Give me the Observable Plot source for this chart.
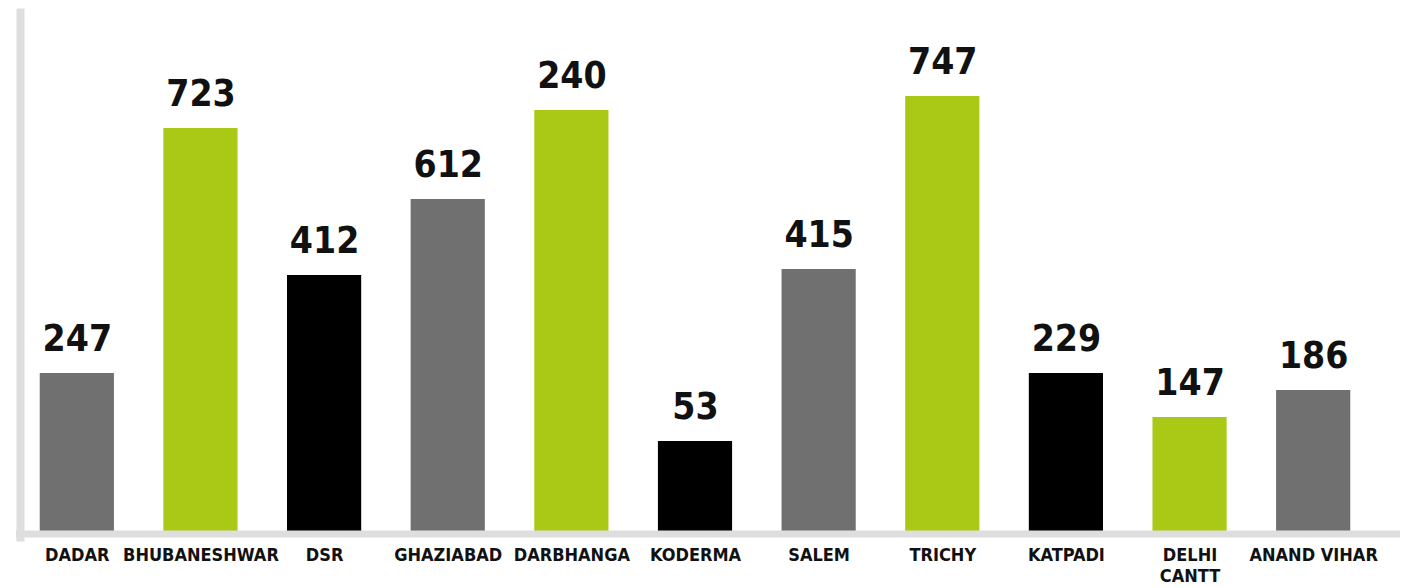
<!DOCTYPE html>
<html><head><meta charset="utf-8">
<script src="https://cdn.jsdelivr.net/npm/d3@7"></script>
<script src="https://cdn.jsdelivr.net/npm/@observablehq/plot@0.6"></script>
<style>html,body{margin:0;padding:0;background:#fff;}</style>
</head><body><div id="chart"></div>
<script>
// Categories (stations), in display order
const stations = ["DADAR", "BHUBANESHWAR", "DSR", "GHAZIABAD", "DARBHANGA", "KODERMA", "SALEM", "TRICHY", "KATPADI", "DELHI CANTT", "ANAND VIHAR"];
// Tick labels as printed under each bar
const tickLabels = ["DADAR", "BHUBANESHWAR", "DSR", "GHAZIABAD", "DARBHANGA", "KODERMA", "SALEM", "TRICHY", "KATPADI", "DELHI\nCANTT", "ANAND VIHAR"];
// Bar heights as drawn in the picture (arbitrary units)
const barHeights = [158, 403, 256, 332, 421, 90, 262, 435, 158, 114, 141];
// Numbers printed above each bar
const valueLabels = ["247", "723", "412", "612", "240", "53", "415", "747", "229", "147", "186"];
// Colour group of each bar
const groups = ["G1", "G2", "G3", "G1", "G2", "G3", "G1", "G2", "G3", "G2", "G1"];

const data = stations.map((s, i) => ({station: s, height: barHeights[i], label: valueLabels[i], group: groups[i]}));

const chart = Plot.plot({
  width: 1404,
  height: 588,
  marginTop: 12,
  marginBottom: 57,
  marginLeft: 20,
  marginRight: 4,
  style: {background: "#fff"},
  x: {domain: stations, range: [15, 1375], round: false, paddingInner: 0.4, paddingOuter: 0.2, label: null},
  y: {domain: [0, 519], axis: null},
  color: {type: "ordinal", domain: ["G1", "G2", "G3"], range: ["#707070", "#aac816", "#000000"]},
  marks: [
    Plot.barY(data, {x: "station", y: "height", fill: "group"}),
    Plot.frame({anchor: "left", stroke: "#dedede", strokeWidth: 8, insetBottom: -6}),
    Plot.ruleY([0], {stroke: "#dedede", strokeWidth: 7, dy: 2.5, insetLeft: -4}),
    Plot.text(data, {x: "station", y: "height", text: "label", dy: -23, lineAnchor: "bottom",
      fontSize: 37, fontWeight: "bold", fontFamily: "DejaVu Sans Condensed", fill: "#111"}),
    Plot.axisX({tickSize: 0, tickPadding: 14, label: null,
      tickFormat: d => tickLabels[stations.indexOf(d)],
      fontSize: 18, fontWeight: "bold", fontFamily: "DejaVu Sans Condensed", lineHeight: 1.18, fill: "#111"})
  ]
});
document.getElementById("chart").appendChild(chart);
</script>
</body></html>
